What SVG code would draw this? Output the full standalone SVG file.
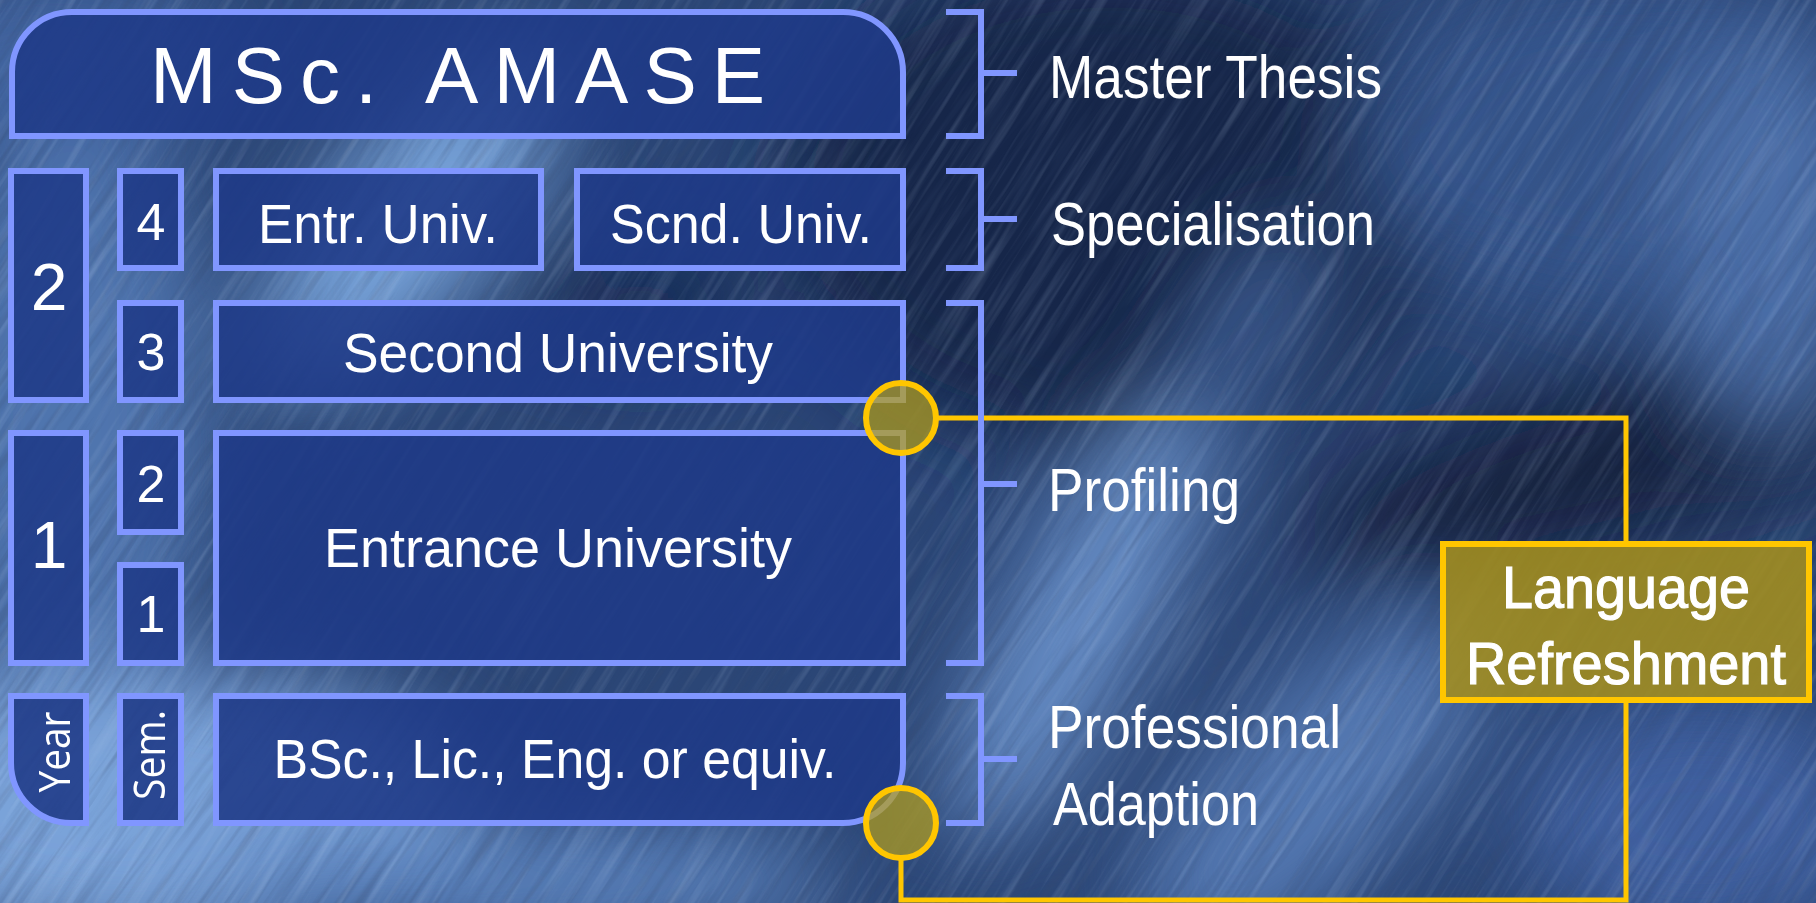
<svg xmlns="http://www.w3.org/2000/svg" width="1816" height="903" viewBox="0 0 1816 903">
<defs>
<style>
.box{fill:#1f3a87;fill-opacity:.88;stroke:#8096ff;stroke-width:6}
.brk{fill:none;stroke:#8096ff;stroke-width:6}
.gold{fill:none;stroke:#ffc600;stroke-width:5}
.dot{fill:#b29c1c;fill-opacity:.72;stroke:#ffc600;stroke-width:6}
.lang{fill:#a48e1e;fill-opacity:.88;stroke:#ffc600;stroke-width:6}
.t{fill:#ffffff;font-family:"Liberation Sans",Arial,sans-serif}
.m{text-anchor:middle}
.side{font-size:62px}
.big{font-size:56px}
.yr{font-size:66px}
.sm{font-size:52px}
.rot{font-family:"Open Sans","Liberation Sans",sans-serif;font-size:44px}
.lt{font-size:60px;stroke:#ffffff;stroke-width:1.2}
</style>
<filter id="soft" x="-50%" y="-50%" width="200%" height="200%"><feGaussianBlur stdDeviation="45"/></filter>
<filter id="streak" x="0" y="0" width="100%" height="100%">
<feTurbulence type="fractalNoise" baseFrequency="0.006 0.13" numOctaves="3" seed="7"/>
<feColorMatrix type="matrix" values="0 0 0 0 0.6  0 0 0 0 0.74  0 0 0 0 0.95  2.0 0 0 0 -0.95"/>
</filter>
<filter id="streakD" x="0" y="0" width="100%" height="100%">
<feTurbulence type="fractalNoise" baseFrequency="0.007 0.14" numOctaves="3" seed="21"/>
<feColorMatrix type="matrix" values="0 0 0 0 0.04  0 0 0 0 0.07  0 0 0 0 0.16  2.2 0 0 0 -1.0"/>
</filter>
</defs>

<g id="background">
<rect x="0" y="0" width="1816" height="903" fill="#2b4676"/>
<g filter="url(#soft)">
<ellipse cx="70" cy="420" rx="140" ry="320" fill="#4f74ae"/>
<ellipse cx="60" cy="60" rx="170" ry="90" fill="#4265a0"/>
<ellipse cx="1110" cy="200" rx="330" ry="250" fill="#16254a"/>
<ellipse cx="1620" cy="460" rx="330" ry="85" transform="rotate(-15 1620 460)" fill="#142140"/>
<ellipse cx="1620" cy="140" rx="260" ry="170" fill="#35558c"/>
<ellipse cx="1770" cy="230" rx="100" ry="200" fill="#4b6ea8"/>
<ellipse cx="410" cy="220" rx="210" ry="80" transform="rotate(-50 410 220)" fill="#79a5dc"/>
<ellipse cx="640" cy="300" rx="120" ry="55" fill="#172a52"/>
<ellipse cx="140" cy="810" rx="330" ry="140" fill="#7aa3d9"/>
<ellipse cx="520" cy="880" rx="320" ry="60" fill="#5b83be"/>
<ellipse cx="1080" cy="620" rx="250" ry="65" transform="rotate(-62 1080 620)" fill="#6a92cb"/>
<ellipse cx="1310" cy="790" rx="230" ry="90" transform="rotate(-45 1310 790)" fill="#5479b3"/>
<ellipse cx="1700" cy="820" rx="180" ry="120" fill="#3f61a0"/>
<ellipse cx="1250" cy="330" rx="120" ry="45" transform="rotate(-55 1250 330)" fill="#3d5d94"/>
</g>
<g transform="rotate(-58 908 451)" opacity="0.22">
<rect x="-142" y="-599" width="2100" height="2100" filter="url(#streak)"/>
</g>
<g transform="rotate(-55 908 451)" opacity="0.3">
<rect x="-142" y="-599" width="2100" height="2100" filter="url(#streakD)"/>
</g>
</g>

<g id="connectors">
<path class="gold" d="M936,418 H1626 V544"/>
<path class="gold" d="M1626,700 V900 H901 V858"/>
</g>

<g id="brackets">
<path class="brk" d="M946,12 H981 V136 H946 M981,73 H1017"/>
<path class="brk" d="M946,171 H981 V268 H946 M981,219 H1017"/>
<path class="brk" d="M946,303 H981 V663 H946 M981,484 H1017"/>
<path class="brk" d="M946,696 H981 V823 H946 M981,759 H1017"/>
</g>

<g id="msc">
<path class="box" d="M12,136 V72 A60,60 0 0 1 72,12 H843 A60,60 0 0 1 903,72 V136 Z"/>
<text class="t" x="150" y="103" font-size="80" letter-spacing="15">MSc. AMASE</text>
</g>

<g id="year2">
<rect class="box" x="11" y="171" width="75" height="229"/>
<text class="t m yr" x="49" y="310">2</text>
</g>
<g id="year1">
<rect class="box" x="11" y="433" width="75" height="230"/>
<text class="t m yr" x="49" y="568">1</text>
</g>
<g id="year-label">
<path class="box" d="M11,696 H86 V823 H71 A60,60 0 0 1 11,763 Z"/>
<text class="t m rot" transform="translate(70,752) rotate(-90)" textLength="81" lengthAdjust="spacingAndGlyphs">Year</text>
</g>

<g id="sem4">
<rect class="box" x="120" y="171" width="61" height="97"/>
<text class="t m sm" x="151" y="240">4</text>
</g>
<g id="sem3">
<rect class="box" x="120" y="303" width="61" height="97"/>
<text class="t m sm" x="151" y="370">3</text>
</g>
<g id="sem2">
<rect class="box" x="120" y="433" width="61" height="99"/>
<text class="t m sm" x="151" y="502">2</text>
</g>
<g id="sem1">
<rect class="box" x="120" y="565" width="61" height="98"/>
<text class="t m sm" x="151" y="632">1</text>
</g>
<g id="sem-label">
<rect class="box" x="120" y="696" width="61" height="127"/>
<text class="t m rot" transform="translate(165,755) rotate(-90)" textLength="90" lengthAdjust="spacingAndGlyphs">Sem.</text>
</g>

<g id="entr-univ">
<rect class="box" x="216" y="171" width="325" height="97"/>
<text class="t m big" x="378" y="243" textLength="240" lengthAdjust="spacingAndGlyphs">Entr. Univ.</text>
</g>
<g id="scnd-univ">
<rect class="box" x="577" y="171" width="326" height="97"/>
<text class="t m big" x="741" y="243" textLength="262" lengthAdjust="spacingAndGlyphs">Scnd. Univ.</text>
</g>
<g id="second-university">
<rect class="box" x="216" y="303" width="687" height="97"/>
<text class="t m big" x="558" y="372" textLength="430" lengthAdjust="spacingAndGlyphs">Second University</text>
</g>
<g id="entrance-university">
<rect class="box" x="216" y="433" width="687" height="230"/>
<text class="t m big" x="558" y="567" textLength="468" lengthAdjust="spacingAndGlyphs">Entrance University</text>
</g>
<g id="bsc">
<path class="box" d="M216,696 H903 V763 A60,60 0 0 1 843,823 H216 Z"/>
<text class="t m big" x="555" y="778" textLength="563" lengthAdjust="spacingAndGlyphs">BSc., Lic., Eng. or equiv.</text>
</g>

<g id="labels">
<text class="t side" x="1049" y="98" textLength="333" lengthAdjust="spacingAndGlyphs">Master Thesis</text>
<text class="t side" x="1051" y="245" textLength="324" lengthAdjust="spacingAndGlyphs">Specialisation</text>
<text class="t side" x="1048" y="511" textLength="192" lengthAdjust="spacingAndGlyphs">Profiling</text>
<text class="t side" x="1048" y="748" textLength="293" lengthAdjust="spacingAndGlyphs">Professional</text>
<text class="t side" x="1053" y="825" textLength="206" lengthAdjust="spacingAndGlyphs">Adaption</text>
</g>

<g id="language-refreshment">
<rect class="lang" x="1443" y="544" width="366" height="156"/>
<text class="t m lt" x="1626" y="608" textLength="248" lengthAdjust="spacingAndGlyphs">Language</text>
<text class="t m lt" x="1626" y="684" textLength="320" lengthAdjust="spacingAndGlyphs">Refreshment</text>
</g>

<g id="junction-top">
<circle class="dot" cx="901" cy="418" r="35"/>
</g>
<g id="junction-bottom">
<circle class="dot" cx="901" cy="823" r="35"/>
</g>
</svg>
